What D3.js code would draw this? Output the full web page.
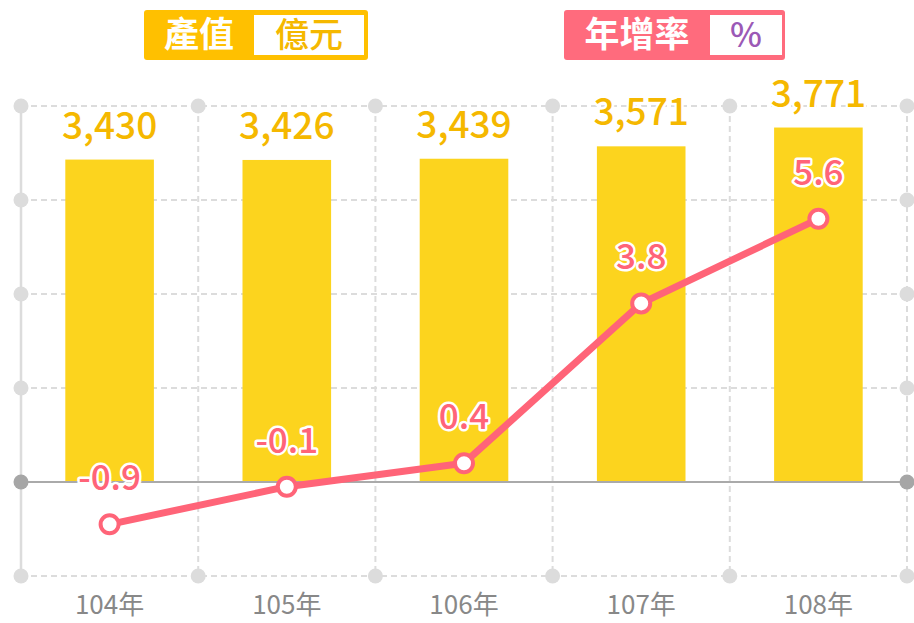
<!DOCTYPE html>
<html>
<head>
<meta charset="utf-8">
<script src="https://cdn.jsdelivr.net/npm/d3@7"></script>
<style>
  html, body { margin: 0; padding: 0; background: #fff; }
  svg { display: block; font-family: "Noto Sans CJK TC", "Noto Sans", sans-serif; }
</style>
</head>
<body>
<svg id="chart"></svg>
<script>
// 資料
const years = ["104年", "105年", "106年", "107年", "108年"];
const output = [3430, 3426, 3439, 3571, 3771];   // 產值(億元)
const growth = [-0.9, -0.1, 0.4, 3.8, 5.6];      // 年增率(%)
const barTicks = [-1000, 0, 1000, 2000, 3000, 4000];
const lineDomain = [-2, 8];

const width = 914;
const height = 623;
const margin = { top: 106, right: 7, bottom: 47, left: 21 };

const yellow = "#FCD41E";
const gold = "#F5B800";
const pink = "#FF6478";
const gridColor = "#dcdcdc";

const svg = d3.select("#chart")
    .attr("width", width)
    .attr("height", height)
    .attr("viewBox", [0, 0, width, height]);

// 比例尺
const x = d3.scaleBand()
    .domain(years)
    .range([margin.left, width - margin.right])
    .paddingInner(0)
    .paddingOuter(0);

const yBar = d3.scaleLinear()
    .domain(d3.extent(barTicks))
    .range([height - margin.bottom, margin.top]);

const yLine = d3.scaleLinear()
    .domain(lineDomain)
    .range([height - margin.bottom, margin.top]);

const x0 = margin.left, x1 = width - margin.right;
const yTop = yBar(d3.max(barTicks)), yBot = yBar(d3.min(barTicks));

// 格線
const grid = svg.append("g");
grid.selectAll(".hgrid")
    .data(barTicks.filter(d => d !== 0))
    .join("line")
    .attr("x1", x0).attr("x2", x1)
    .attr("y1", d => yBar(d)).attr("y2", d => yBar(d))
    .attr("stroke", gridColor)
    .attr("stroke-width", 2)
    .attr("stroke-dasharray", "6,4");

const vLines = years.map(y => x(y)).slice(1).concat([x1]);
grid.selectAll(".vgrid")
    .data(vLines)
    .join("line")
    .attr("x1", d => d).attr("x2", d => d)
    .attr("y1", yTop).attr("y2", yBot)
    .attr("stroke", gridColor)
    .attr("stroke-width", 2)
    .attr("stroke-dasharray", "6,4");

// 左軸實線
grid.append("line")
    .attr("x1", x0).attr("x2", x0)
    .attr("y1", yTop).attr("y2", yBot)
    .attr("stroke", gridColor)
    .attr("stroke-width", 2.5);

// 長條
svg.append("g").selectAll("rect")
    .data(output)
    .join("rect")
    .attr("x", (d, i) => x(years[i]) + x.bandwidth() * 0.25)
    .attr("width", x.bandwidth() * 0.5)
    .attr("y", d => yBar(d))
    .attr("height", d => yBar(0) - yBar(d))
    .attr("fill", yellow);

// 零線
svg.append("line")
    .attr("x1", x0).attr("x2", x1)
    .attr("y1", yBar(0)).attr("y2", yBar(0))
    .attr("stroke", "#aaa")
    .attr("stroke-width", 2);

// 邊框圓點
const dots = svg.append("g");
barTicks.forEach(t => {
    [x0, x1].forEach(px => {
        dots.append("circle")
            .attr("cx", px).attr("cy", yBar(t))
            .attr("r", 7.5)
            .attr("fill", t === 0 ? "#a6a6a6" : gridColor);
    });
});
vLines.slice(0, -1).forEach(px => {
    [yTop, yBot].forEach(py => {
        dots.append("circle")
            .attr("cx", px).attr("cy", py)
            .attr("r", 7.5)
            .attr("fill", gridColor);
    });
});

// 長條數值
svg.append("g").selectAll("text")
    .data(output)
    .join("text")
    .attr("x", (d, i) => x(years[i]) + x.bandwidth() / 2)
    .attr("y", d => yBar(d) - 21)
    .attr("text-anchor", "middle")
    .attr("font-size", 37)
    .attr("font-weight", 500)
    .attr("fill", gold)
    .attr("stroke", "#fff")
    .attr("stroke-width", 5)
    .attr("stroke-linejoin", "round")
    .attr("paint-order", "stroke")
    .text(d => d3.format(",")(d));

// 折線
const line = d3.line()
    .x((d, i) => x(years[i]) + x.bandwidth() / 2)
    .y(d => yLine(d));

svg.append("path")
    .datum(growth)
    .attr("fill", "none")
    .attr("stroke", pink)
    .attr("stroke-width", 7)
    .attr("stroke-linejoin", "round")
    .attr("d", line);

svg.append("g").selectAll("circle")
    .data(growth)
    .join("circle")
    .attr("cx", (d, i) => x(years[i]) + x.bandwidth() / 2)
    .attr("cy", d => yLine(d))
    .attr("r", 9)
    .attr("fill", "#fff")
    .attr("stroke", pink)
    .attr("stroke-width", 4);

// 折線數值
svg.append("g").selectAll("text")
    .data(growth)
    .join("text")
    .attr("x", (d, i) => x(years[i]) + x.bandwidth() / 2)
    .attr("y", d => yLine(d) - 34)
    .attr("text-anchor", "middle")
    .attr("font-size", 35)
    .attr("font-weight", 500)
    .attr("fill", pink)
    .attr("stroke", "#fff")
    .attr("stroke-width", 5)
    .attr("stroke-linejoin", "round")
    .attr("paint-order", "stroke")
    .text(d => d.toFixed(1));

// X 軸標籤
svg.append("g").selectAll("text")
    .data(years)
    .join("text")
    .attr("x", d => x(d) + x.bandwidth() / 2)
    .attr("y", 614)
    .attr("text-anchor", "middle")
    .attr("font-size", 26)
    .attr("fill", "#888")
    .text(d => d);

// 圖例
function legend(lx, w, innerX, innerW, color, label, unit, unitColor) {
    const g = svg.append("g");
    g.append("rect")
        .attr("x", lx).attr("y", 10)
        .attr("width", w).attr("height", 50)
        .attr("rx", 3)
        .attr("fill", color);
    g.append("rect")
        .attr("x", innerX).attr("y", 15)
        .attr("width", innerW).attr("height", 40)
        .attr("fill", "#fff");
    g.append("text")
        .attr("x", (lx + innerX) / 2)
        .attr("y", 47)
        .attr("text-anchor", "middle")
        .attr("font-size", 35)
        .attr("font-weight", 700)
        .attr("fill", "#fff")
        .text(label);
    g.append("text")
        .attr("x", innerX + innerW / 2)
        .attr("y", 47)
        .attr("text-anchor", "middle")
        .attr("font-size", 34)
        .attr("font-weight", 500)
        .attr("fill", unitColor)
        .text(unit);
}
legend(144, 224, 254, 110, "#FFC000", "產值", "億元", gold);
legend(564, 221, 710, 72, "#FF6B7D", "年增率", "%", "#9B59B6");
</script>
</body>
</html>
